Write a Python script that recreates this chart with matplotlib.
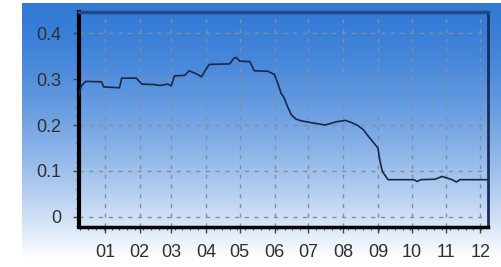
import numpy as np
import pandas as pd
import matplotlib
matplotlib.use("Agg")
from matplotlib import pyplot as plt
import matplotlib.dates as mdates

# values
dates = [
    "2012-12-09", "2012-12-11", "2012-12-15", "2012-12-29", "2012-12-31",
    "2013-01-14", "2013-01-16", "2013-01-29", "2013-02-03", "2013-02-14",
    "2013-02-19", "2013-02-26", "2013-03-01", "2013-03-04", "2013-03-13",
    "2013-03-17", "2013-03-23", "2013-03-28", "2013-04-02", "2013-04-04",
    "2013-04-22", "2013-04-26", "2013-04-28", "2013-05-01", "2013-05-10",
    "2013-05-14", "2013-05-26", "2013-06-01", "2013-06-04", "2013-06-07",
    "2013-06-09", "2013-06-13", "2013-06-16", "2013-06-20", "2013-06-25",
    "2013-07-04", "2013-07-16", "2013-07-26", "2013-08-03", "2013-08-09",
    "2013-08-14", "2013-08-19", "2013-08-23", "2013-08-28", "2013-09-01",
    "2013-09-03", "2013-09-05", "2013-09-10", "2013-10-03", "2013-10-06",
    "2013-10-09", "2013-10-22", "2013-10-28", "2013-11-01", "2013-11-06",
    "2013-11-10", "2013-11-13", "2013-12-08",
]
values = [
    0.265, 0.285, 0.295, 0.294, 0.283,
    0.281, 0.302, 0.302, 0.289, 0.288,
    0.286, 0.289, 0.285, 0.307, 0.308,
    0.318, 0.312, 0.305, 0.325, 0.332,
    0.333, 0.346, 0.347, 0.339, 0.338,
    0.318, 0.317, 0.310, 0.290, 0.268,
    0.262, 0.238, 0.222, 0.213, 0.209,
    0.205, 0.200, 0.207, 0.210, 0.205,
    0.199, 0.190, 0.177, 0.162, 0.150,
    0.120, 0.099, 0.081, 0.081, 0.077,
    0.081, 0.082, 0.088, 0.085, 0.081,
    0.076, 0.081, 0.081,
]
y_ticks = [0, 0.1, 0.2, 0.3, 0.4]
y_labels = ["0", "0.1", "0.2", "0.3", "0.4"]

x = pd.to_datetime(dates)

W, H = 501, 267
fig = plt.figure(figsize=(W / 100, H / 100), dpi=100)

# background gradient panel (blue at top fading to white)
bg = np.ones((H, W, 3))
top = np.array([50, 122, 214]) / 255.0
rows = np.arange(H)
t = np.clip((rows - 3) / 255.0, 0, 1) ** 1.5
grad = top[None, :] * (1 - t[:, None]) + np.ones(3)[None, :] * t[:, None]
bg[3:, 22:, :] = grad[3:, None, :]
bax = fig.add_axes([0, 0, 1, 1], zorder=-1)
bax.imshow(bg, aspect="auto", interpolation="bilinear")
bax.axis("off")

ax = fig.add_axes([79 / W, (H - 227) / H, (488 - 79) / W, (227 - 12) / H])
ax.patch.set_alpha(0)
ax.plot(x, values, color="#18284a", lw=1.2, zorder=3)

ax.set_xlim(pd.Timestamp("2012-12-09"), pd.Timestamp("2013-12-08"))
ax.set_ylim(-0.022, 0.446)
ax.set_yticks(y_ticks)
ax.set_yticklabels(y_labels)
ax.yaxis.set_minor_locator(matplotlib.ticker.MultipleLocator(0.02))

ax.xaxis.set_major_locator(mdates.MonthLocator())
ax.xaxis.set_major_formatter(mdates.DateFormatter("%m"))
ax.xaxis.set_minor_locator(mdates.WeekdayLocator(byweekday=mdates.MO))

ax.grid(True, which="major", color="#7f8fa6", ls=(0, (3, 4)), lw=1.0)
ax.tick_params(axis="both", which="major", labelsize=13, labelcolor="#303030",
               color="#444444", length=4, width=1)
ax.tick_params(axis="both", which="minor", color="#444444", length=2.5, width=0.8)
ax.tick_params(axis="x", pad=8)
ax.tick_params(axis="y", pad=9)
for lab in ax.get_xticklabels() + ax.get_yticklabels():
    lab.set_family(["Liberation Sans", "DejaVu Sans"])

ax.spines["left"].set_color("black")
ax.spines["left"].set_linewidth(3)
ax.spines["bottom"].set_color("black")
ax.spines["bottom"].set_linewidth(2.5)
ax.spines["top"].set_color("#1f4a86")
ax.spines["top"].set_linewidth(2.5)
ax.spines["right"].set_color("#1a2c5c")
ax.spines["right"].set_linewidth(2)

fig.savefig("out.png", dpi=100)
